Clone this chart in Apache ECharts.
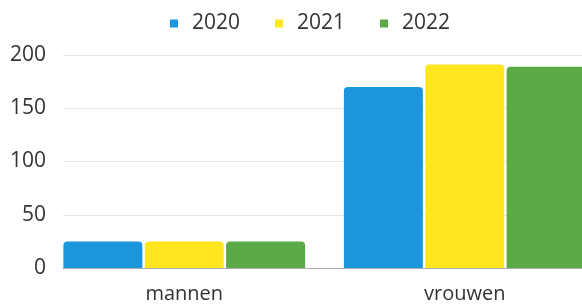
<!DOCTYPE html>
<html>
<head>
<meta charset="utf-8">
<script src="https://cdn.jsdelivr.net/npm/echarts@6/dist/echarts.min.js"></script>
<style>html,body{margin:0;padding:0;background:#fff;}#c{width:582px;height:304px;}</style>
</head>
<body>
<div id="c"></div>
<script>
const categories = ['mannen', 'vrouwen'];
const seriesNames = ['2020', '2021', '2022'];
const values2020 = [25, 170];
const values2021 = [25, 191];
const values2022 = [25, 189];
const colors = ['#1b96dc', '#ffe61e', '#5aaa46'];
const yTicks = [0, 50, 100, 150, 200];

const font = 'Open Sans';
const chart = echarts.init(document.getElementById('c'));
const data = [values2020, values2021, values2022];
chart.setOption({
  animation: false,
  color: colors,
  textStyle: { fontFamily: font },
  legend: {
    left: 170, top: 13, padding: 0,
    icon: 'rect', itemWidth: 8, itemHeight: 8, itemGap: 35,
    textStyle: { fontFamily: font, fontSize: 21, color: '#333', padding: [0, 0, 0, 9] },
    data: seriesNames
  },
  grid: [
    { left: 44, top: 55, bottom: 36, width: 561, outerBoundsMode: 'none', containLabel: false },
    { left: 63, right: 0, top: 55, bottom: 36, outerBoundsMode: 'none', containLabel: false }
  ],
  xAxis: [
    { type: 'category', gridIndex: 0, data: categories,
      axisLine: { show: false }, axisTick: { show: false },
      axisLabel: { fontFamily: font, fontSize: 20, color: '#333', margin: 16 } },
    { type: 'value', gridIndex: 1, min: 0, max: 1, z: 5,
      axisLine: { show: true, lineStyle: { color: '#aaa', width: 1 } },
      axisTick: { show: false }, axisLabel: { show: false }, splitLine: { show: false } }
  ],
  yAxis: [
    { type: 'value', gridIndex: 0, min: yTicks[0], max: yTicks[yTicks.length - 1], interval: 50, show: false },
    { type: 'value', gridIndex: 1, min: yTicks[0], max: yTicks[yTicks.length - 1], interval: 50,
      axisLine: { show: false }, axisTick: { show: false },
      axisLabel: { fontFamily: font, fontSize: 21, color: '#333', margin: 17 },
      splitLine: { lineStyle: { color: '#e6e6e6', width: 1 } } }
  ],
  series: seriesNames.map((n, i) => ({
    name: n, type: 'bar', xAxisIndex: 0, yAxisIndex: 0,
    data: data[i], barWidth: 79, barGap: '3%',
    itemStyle: { color: colors[i], borderRadius: [4, 4, 0, 0] }
  }))
});
</script>
</body>
</html>
